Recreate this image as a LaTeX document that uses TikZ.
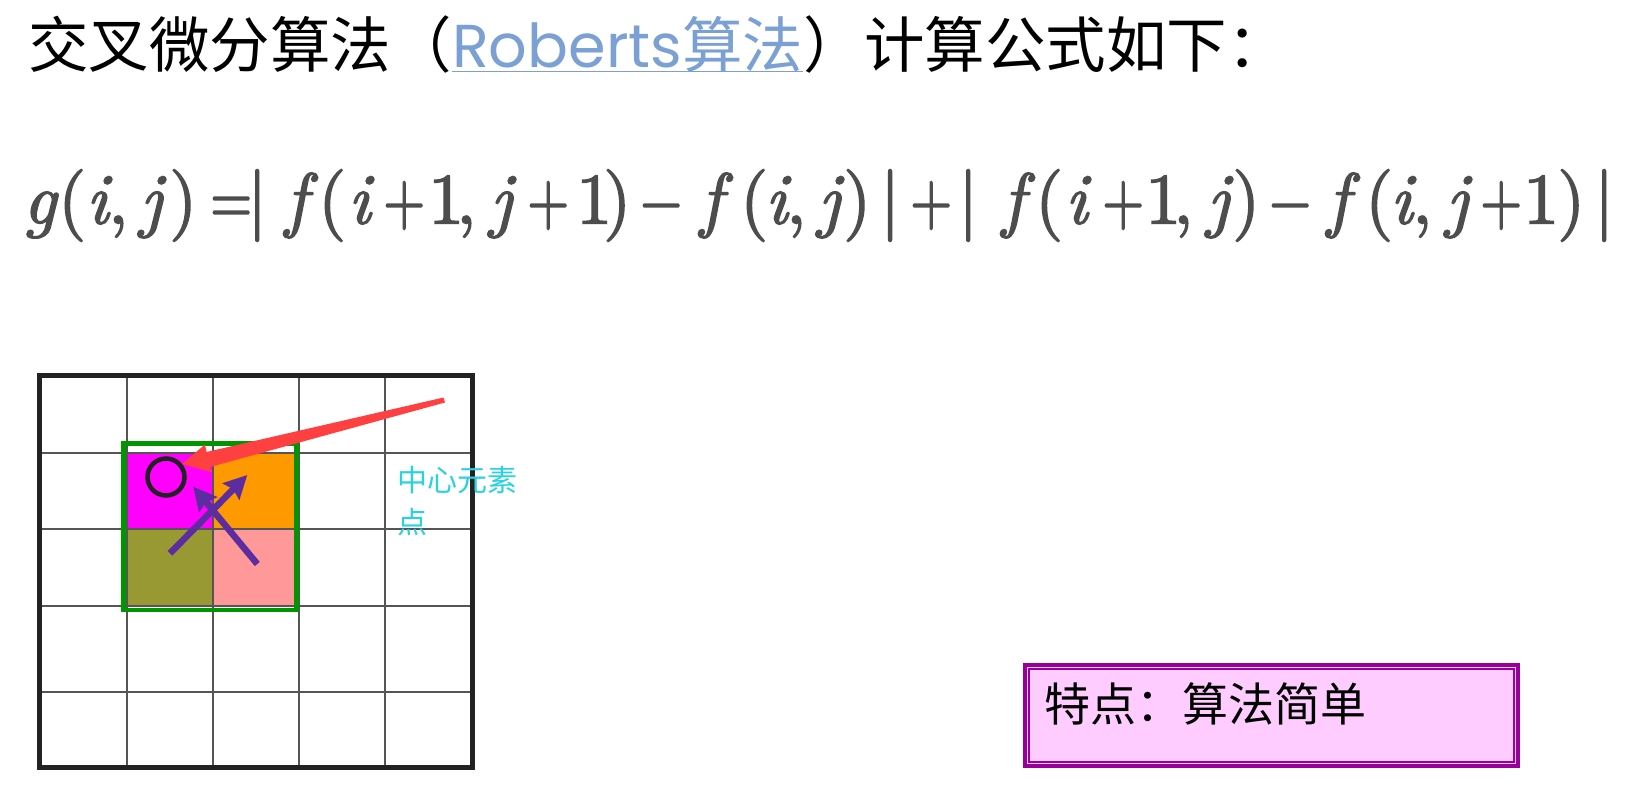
\documentclass[tikz,border=0pt]{standalone}
\usepackage{graphicx}
\usepackage{fontspec}
\setmainfont{Noto Sans CJK SC}
\newfontfamily\robfont{Poppins}
\newfontfamily\lmfont{lmroman10-regular.otf}[ItalicFont=lmroman10-italic.otf, FakeBold=2]
\usetikzlibrary{arrows.meta}
\definecolor{cmag}{RGB}{255,0,255}
\definecolor{corange}{RGB}{255,153,0}
\definecolor{colive}{RGB}{153,153,51}
\definecolor{cpink}{RGB}{255,153,153}
\definecolor{cgreen}{RGB}{0,150,0}
\definecolor{cdark}{RGB}{34,34,34}
\definecolor{cgrid}{RGB}{85,85,85}
\definecolor{cred}{RGB}{255,64,64}
\definecolor{cviolet}{RGB}{92,45,160}
\definecolor{ccyan}{RGB}{40,210,225}
\definecolor{clink}{RGB}{123,160,212}
\definecolor{cformula}{RGB}{77,77,77}
\definecolor{cpurple}{RGB}{153,0,153}
\definecolor{cboxfill}{RGB}{255,204,255}
\newcommand{\mv}[1]{\textit{#1}}
\newcommand{\op}[1]{\scalebox{0.75}[1]{#1}}
\newcommand{\gl}[2]{\makebox[0pt][l]{\kern#1pt#2}}
\tikzset{
  titletext/.style={inner sep=0pt, font=\fontsize{60.5}{70}\selectfont},
  gridline/.style={draw=cgrid, line width=2pt},
  gridborder/.style={draw=cdark, line width=5pt},
  greenbox/.style={draw=cgreen, line width=4.5pt},
  violetarrow/.style={draw=cviolet, line width=6.5pt, -{Stealth[length=23pt,width=23pt,inset=3pt]}},
  cyantext/.style={inner sep=0pt, text=ccyan, font=\fontsize{30}{34}\selectfont},
  feattext/.style={inner sep=0pt, font=\fontsize{46}{52}\selectfont},
}
\begin{document}
\begin{tikzpicture}[x=1pt,y=-1pt]
\useasboundingbox (0,0) rectangle (1643,809);
\fill[white] (0,0) rectangle (1643,809);

% title
\node[titletext, anchor=base west] (t1) at (28,67.5) {交叉微分算法（};
\node[titletext, anchor=base west, text=clink] (t2) at (t1.base east) {{\robfont Roberts}算法};
\node[titletext, anchor=base west] (t3) at (t2.base east) {）计算公式如下：};
\draw[clink, line width=1.5pt] ([yshift=-4pt]t2.base west) -- ([yshift=-4pt]t2.base east);

% formula (glyphs placed at measured offsets)
\node[inner sep=0pt, anchor=base west, text=cformula, font=\lmfont\fontsize{72}{80}\selectfont] (formula) at (0,223.5)
 {\gl{23}{\mv{g}}\gl{58}{(}\gl{86}{\mv{i}}\gl{108}{,}\gl{140}{\mv{j}}\gl{169}{)}%
  \gl{210}{\op{=}}\gl{247}{|}%
  \gl{285}{\mv{f}}\gl{318}{(}\gl{348}{\mv{i}}\gl{383}{\op{+}}\gl{428}{1}\gl{456}{,}\gl{490}{\mv{j}}\gl{527}{\op{+}}\gl{576}{1}\gl{603}{)}%
  \gl{640}{\op{−}}%
  \gl{700}{\mv{f}}\gl{740}{(}\gl{765}{\mv{i}}\gl{786}{,}\gl{818}{\mv{j}}\gl{843}{)}%
  \gl{880}{|}\gl{910}{\op{+}}\gl{958}{|}%
  \gl{1002}{\mv{f}}\gl{1035}{(}\gl{1065}{\mv{i}}\gl{1102}{\op{+}}\gl{1145}{1}\gl{1173}{,}\gl{1207}{\mv{j}}\gl{1232}{)}%
  \gl{1269}{\op{−}}%
  \gl{1327}{\mv{f}}\gl{1365}{(}\gl{1390}{\mv{i}}\gl{1412}{,}\gl{1446}{\mv{j}}\gl{1480}{\op{+}}\gl{1523}{1}\gl{1557}{)}\gl{1594}{|}%
  \hspace*{1612pt}};

% coloured cells
\fill[cmag] (127,452.5) rectangle (213,529);
\fill[corange] (213,452.5) rectangle (299,529);
\fill[colive] (127,529) rectangle (213,605.7);
\fill[cpink] (213,529) rectangle (299,605.7);

% grid
\foreach \x in {127,213,299,385} \draw[gridline] (\x,375) -- (\x,767);
\foreach \y in {452.5,529,605.7,692} \draw[gridline] (39,\y) -- (472,\y);
\draw[gridborder] (39,375) rectangle (472,767);

% green window
\draw[greenbox] (123.3,443.3) rectangle (296.5,610);

% centre circle
\node[circle, draw=cdark, line width=4.5pt, minimum size=37pt, inner sep=0pt] (ctr) at (166,477) {};

% red pointer
\fill[cred] (443.5,397.5) -- (445,402.5) -- (210,467) -- (212.5,472.5) -- (182,464) -- (205,444.5) -- (206.5,452) -- cycle;

% violet arrows
\coordinate (a1s) at (170,553.3);
\coordinate (a1e) at (247.3,475);
\coordinate (a2s) at (257.3,564);
\coordinate (a2e) at (193.3,486.7);
\draw[violetarrow] (a1s) -- (a1e);
\draw[violetarrow] (a2s) -- (a2e);

% cyan label
\node[cyantext, anchor=base west] (lab1) at (397,491) {中心元素};
\node[cyantext, anchor=base west] (lab2) at (397,533) {点};

% feature box
\fill[cboxfill] (1024.7,664.7) rectangle (1518,766.3);
\draw[cpurple, line width=4pt] (1024.7,664.7) rectangle (1518,766.3);
\draw[cpurple, line width=2pt] (1029,669) rectangle (1513.7,762);
\node[feattext, anchor=base west] (feat) at (1044,721.8) {特点：算法简单};
\end{tikzpicture}
\end{document}
